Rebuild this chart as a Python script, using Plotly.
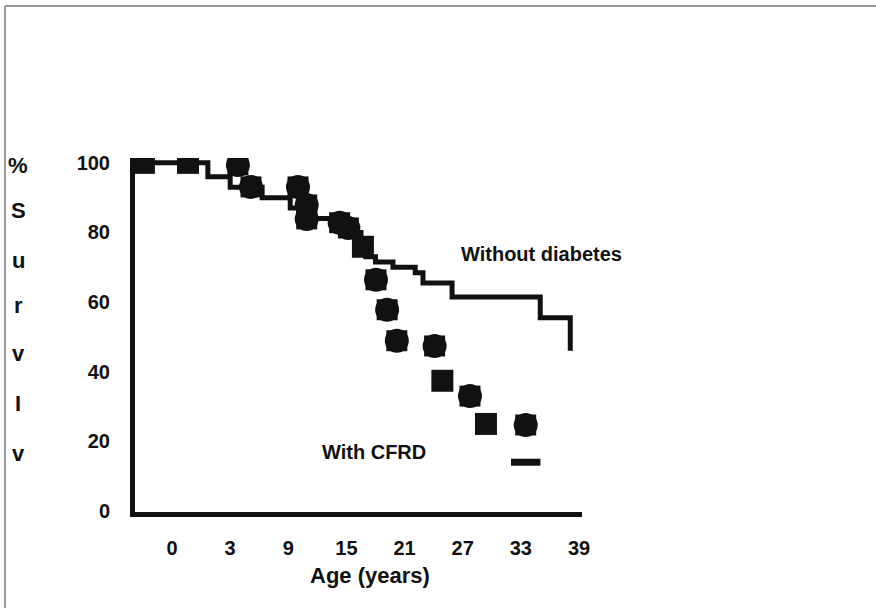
import plotly.graph_objects as go

# ---- data ----
x_tick_vals = [-3, 3, 9, 15, 21, 27, 33, 39]
x_tick_text = ["0", "3", "9", "15", "21", "27", "33", "39"]
y_tick_vals = [0, 20, 40, 60, 80, 100]

# Without diabetes: Kaplan-Meier step curve
nodiab_age = [-6.8, 0.7, 3.0, 6.3, 9.2, 11.5, 13.5, 15.5, 16.5, 17.0, 18.0, 19.8, 22.1, 22.9, 25.9, 35.0, 38.1]
nodiab_surv = [100, 96, 93, 90, 87, 84, 82, 80, 76, 73, 71.5, 70, 68.4, 65.5, 61.5, 55.5, 46]

# With CFRD: square markers
cfrd_sq_age = [-5.9, -1.35, 16.7, 24.9, 29.4]
cfrd_sq_surv = [100, 100, 75.9, 37.4, 25.0]
# With CFRD: rounded markers
cfrd_rd_age = [3.8, 5.15, 10.0, 10.9, 10.9, 14.3, 15.2, 18.05, 19.2, 20.2, 24.1, 27.75, 33.5]
cfrd_rd_surv = [99.4, 93.1, 93.1, 87.9, 83.9, 82.8, 81.3, 66.4, 57.8, 48.9, 47.4, 33.0, 24.7]
# final censor dash
cfrd_end_age = [33.5]
cfrd_end_surv = [14.0]

y_letters = ["%", "S", "u", "r", "v", "I", "v"]
y_letter_pos = [165, 210, 260, 305, 353, 403, 453]  # pixel rows

FONT = "Liberation Sans, Arial, sans-serif"
BLACK = "#111111"

L, R, T, B = 135, 294, 158, 96
W, H = 876, 608
PW, PH = W - L - R, H - T - B


def px2paper_x(px):
    return (px - L) / PW


def px2paper_y(py):
    return (H - B - py) / PH


fig = go.Figure()

fig.add_trace(go.Scatter(
    x=nodiab_age, y=nodiab_surv, mode="lines",
    line=dict(shape="hv", width=5, color=BLACK), hoverinfo="skip"))

fig.add_trace(go.Scatter(
    x=cfrd_sq_age, y=cfrd_sq_surv, mode="markers",
    marker=dict(symbol="square", size=22, color=BLACK), hoverinfo="skip"))

fig.add_trace(go.Scatter(
    x=cfrd_rd_age, y=cfrd_rd_surv, mode="markers",
    marker=dict(symbol="square", size=21, color=BLACK), hoverinfo="skip"))
fig.add_trace(go.Scatter(
    x=cfrd_rd_age, y=cfrd_rd_surv, mode="markers",
    marker=dict(symbol="circle", size=24, color=BLACK), hoverinfo="skip"))

fig.add_trace(go.Scatter(
    x=cfrd_end_age, y=cfrd_end_surv, mode="markers",
    marker=dict(symbol="line-ew", size=21, line=dict(width=7, color=BLACK)),
    hoverinfo="skip"))

annotations = [
    dict(x=35.1, y=73.9, xref="x", yref="y", text="<b>Without diabetes</b>",
         showarrow=False, xanchor="center", yanchor="middle",
         font=dict(size=20, color=BLACK, family=FONT)),
    dict(x=17.85, y=17.0, xref="x", yref="y", text="<b>With CFRD</b>",
         showarrow=False, xanchor="center", yanchor="middle",
         font=dict(size=20, color=BLACK, family=FONT)),
    dict(x=px2paper_x(370), y=px2paper_y(575), xref="paper", yref="paper",
         text="<b>Age (years)</b>", showarrow=False,
         xanchor="center", yanchor="middle",
         font=dict(size=22, color=BLACK, family=FONT)),
]
for letter, py in zip(y_letters, y_letter_pos):
    annotations.append(dict(
        x=px2paper_x(18), y=px2paper_y(py), xref="paper", yref="paper",
        text="<b>%s</b>" % letter, showarrow=False,
        xanchor="center", yanchor="middle",
        font=dict(size=22, color=BLACK, family=FONT)))

shapes = [
    dict(type="line", xref="paper", yref="paper",
         x0=px2paper_x(5), x1=px2paper_x(5), y0=px2paper_y(6), y1=px2paper_y(608),
         line=dict(color="#777777", width=1.5)),
    dict(type="line", xref="paper", yref="paper",
         x0=px2paper_x(5), x1=px2paper_x(876), y0=px2paper_y(6), y1=px2paper_y(6),
         line=dict(color="#777777", width=1.5)),
]

fig.update_layout(
    width=W, height=H,
    margin=dict(l=L, r=R, t=T, b=B),
    plot_bgcolor="white", paper_bgcolor="white",
    showlegend=False,
    annotations=annotations,
    shapes=shapes,
    font=dict(family=FONT, color=BLACK),
    xaxis=dict(range=[-6.82, 39.31], tickvals=x_tick_vals, ticktext=x_tick_text,
               showline=True, linewidth=5, linecolor=BLACK, showgrid=False,
               zeroline=False, ticks="", ticklabelstandoff=14,
               tickfont=dict(size=20, color=BLACK, family=FONT, weight="bold")),
    yaxis=dict(range=[-0.3, 101.4], tickvals=y_tick_vals,
               showline=True, linewidth=5, linecolor=BLACK, showgrid=False,
               zeroline=False, ticks="", ticklabelstandoff=16,
               tickfont=dict(size=20, color=BLACK, family=FONT, weight="bold")),
)

fig.write_html("out.html")
